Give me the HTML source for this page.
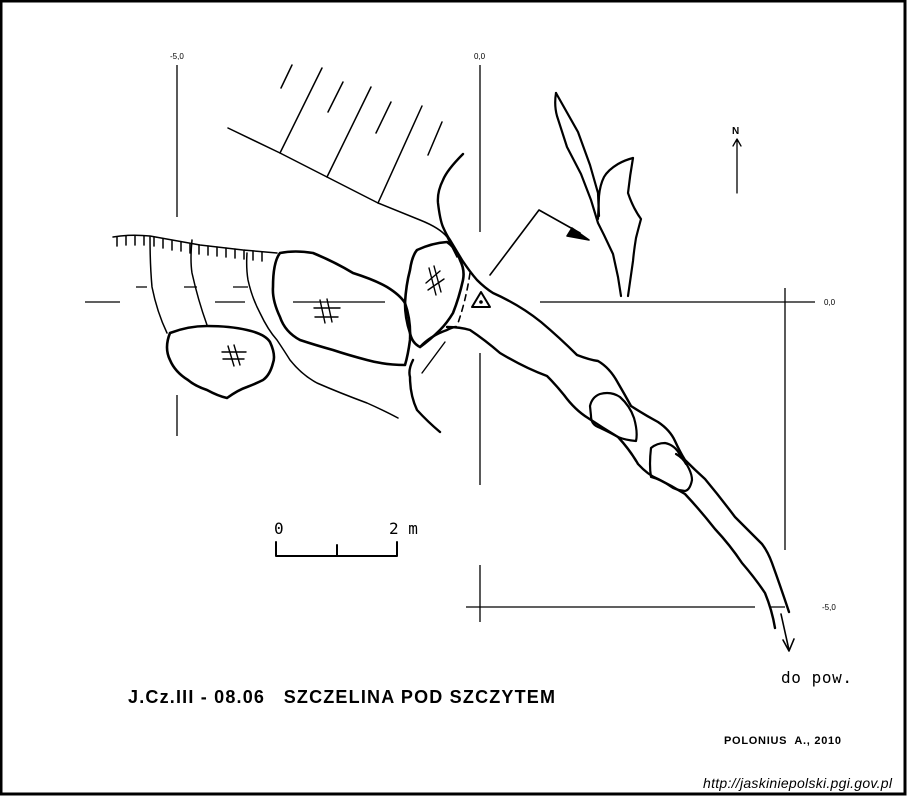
<!DOCTYPE html>
<html><head><meta charset="utf-8"><style>
html,body{margin:0;padding:0;background:#fff}
svg{display:block}
</style></head><body>
<svg width="907" height="796" viewBox="0 0 907 796" xmlns="http://www.w3.org/2000/svg" font-family="Liberation Sans, sans-serif">
<rect x="1" y="1" width="904" height="793" fill="#fff" stroke="#000" stroke-width="3"/>
<g stroke="#000" stroke-width="1.3" fill="none">
  <path d="M177 65V217M177 395V436"/>
  <path d="M480 65V232M480 353V485M480 565V622"/>
  <path d="M785 288V550"/>
  <path d="M85 302H120M215 302H245M293 302H385M540 302H815"/>
  <path d="M136 287H147M184 287H197M233 287H248"/>
  <path d="M466 607H755M770 607H785"/>
</g>
<g font-size="8" fill="#000">
  <text x="170" y="59">-5,0</text>
  <text x="474" y="59">0,0</text>
  <text x="824" y="305">0,0</text>
  <text x="822" y="610">-5,0</text>
</g>
<g stroke="#000" fill="none" stroke-linejoin="round" stroke-linecap="round">
  <!-- slope -->
  <g stroke-width="1.5">
    <path d="M228 128 L280 153 L327 177 L378 203 L420 220 Q440 228 447 237 L457 257"/>
    <path d="M280 153L322 68M281 88L292 65M328 112L343 82M327 177L371 87M376 133L391 102M378 203L422 106M428 155L442 122"/>
  </g>
  <!-- roof hachure edge -->
  <g stroke-width="1.5">
    <path d="M113 237 Q130 234 150 236 L200 245 L243 250 L277 253"/>
    <path d="M117 237v9M126 236v9M135 236v9M144 236v9M154 237v9M163 239v9M172 241v9M181 242v9M190 244v9M199 245v9M208 246v9M217 247v9M226 248v9M235 249v9M244 250v9M253 251v9M262 252v9"/>
    <path d="M150 237 Q150 265 152 287 Q157 312 167 333"/>
    <path d="M192 240 Q190 260 192 273 Q198 300 207 325"/>
    <path d="M247 253 Q246 268 248 280 Q252 298 260 313 Q268 330 277 340 Q285 352 290 360 Q302 375 317 383 Q340 393 367 403 Q385 411 398 418"/>
  </g>
  <!-- boulders -->
  <g stroke-width="2.6">
    <path d="M170 333 Q188 326 207 326 Q230 326 247 330 Q265 334 270 342 Q276 355 273 363 Q270 375 263 380 Q255 384 247 387 Q238 390 227 398 Q218 396 207 390 Q195 386 188 380 Q175 372 170 360 Q164 348 170 333Z"/>
    <path d="M280 253 Q295 250 313 253 Q335 262 353 273 Q375 280 387 287 Q400 295 405 303 Q411 320 410 340 Q408 355 405 365 Q385 365 367 360 Q348 355 333 350 Q315 345 300 340 Q285 332 280 317 Q272 300 273 287 Q273 262 280 253Z"/>
    <path d="M417 250 Q432 243 447 242 Q456 248 460 260 Q465 270 463 280 Q459 298 453 313 Q447 323 440 330 Q430 340 420 347 Q412 343 410 333 Q405 318 405 303 Q406 285 410 270 Q412 256 417 250Z"/>
  </g>
  <g stroke-width="1.4">
    <path d="M222 352H246M223 359H244M228 346L234 366M234 345L240 365"/>
    <path d="M314 308H340M315 317H338M320 300L325 323M327 299L332 322"/>
    <path d="M426 283L440 271M428 290L444 279M429 268L436 295M434 266L441 292"/>
  </g>
  <!-- entrance walls -->
  <g stroke-width="2.4">
    <path d="M463 154 Q447 170 443 180 Q437 192 438 203 Q440 220 443 227 Q447 236 450 240 L462 260 Q470 272 477 280 Q485 288 493 293 Q520 305 541 322 Q560 338 577 355 Q590 360 598 361 Q610 368 618 383 Q625 395 631 406 Q645 415 658 422 Q670 430 675 441 Q680 452 685 460 Q695 470 705 479 Q720 497 735 517 Q750 532 762 544 Q768 552 772 563 Q780 585 789 612"/>
    <path d="M447 327 Q460 327 470 330 Q485 340 500 353 Q525 368 547 376 Q556 385 564 395 Q575 410 588 418 Q603 428 618 437 Q630 450 638 464 Q648 475 658 479 Q672 486 685 494 Q700 510 715 529 Q730 545 742 563 Q755 578 765 593 Q772 610 775 628"/>
    <path d="M420 347 Q430 336 447 330 Q452 327 456 327"/>
    <path d="M413 360 Q408 370 410 377 Q410 395 417 410 Q428 422 440 432"/>
  </g>
  <path stroke-width="1.4" d="M422 373L445 342"/>
  <path stroke-width="1.6" stroke-dasharray="6 5" d="M470 273 Q466 300 458 323"/>
  <g>
    <path stroke-width="2" d="M481 292 L472 307 L490 307Z"/>
    <circle cx="481" cy="302" r="1.8" fill="#000" stroke="none"/>
  </g>
  <!-- inner loops -->
  <g stroke-width="2.2">
    <path d="M590 406 Q592 397 600 394 Q611 391 620 397 Q630 406 634 418 Q638 432 636 441 Q625 440 618 437 Q605 430 598 427 Q591 424 591 416Z"/>
    <path d="M651 448 Q657 443 665 443 Q675 445 680 455 Q692 470 692 480 Q690 490 685 491 Q675 490 670 486 Q662 480 651 477 Q649 465 651 448Z"/>
    <path d="M676 454 Q683 458 686 464"/>
  </g>
  <!-- side passage -->
  <g stroke-width="2.2">
    <path d="M556 93 Q554 105 557 116 L567 147 L581 174 L591 200 L598 223 L604 235 L613 254 L618 277 L621 296"/>
    <path d="M633 158 Q630 175 628 193 Q633 208 641 219 Q638 230 636 238 Q634 250 633 261 L628 296"/>
    <path d="M556 93 L578 132 L590 165 L598 193 L599 216"/>
    <path d="M633 158 Q625 160 618 164 Q608 170 604 177 Q600 185 599 196 L598 219"/>
  </g>
  <g stroke-width="1.6">
    <path d="M490 275 L539 210 L580 233"/>
    <path d="M589 240 L567 236 L572 228Z" fill="#000"/>
  </g>
  <g stroke-width="1.6">
    <path d="M781 614 L789 650"/>
    <path d="M783 640 L789 651 L794 639"/>
  </g>
  <g stroke-width="1.3">
    <path d="M737 193V140M733 146L737 139L741 146"/>
  </g>
  <g stroke-width="2">
    <path d="M276 542V556H397V542M337 545V556"/>
  </g>
</g>
<text x="732" y="134" font-size="10" font-weight="bold">N</text>
<text x="274" y="534" font-size="16" font-family="DejaVu Sans Mono, monospace">0</text>
<text x="389" y="534" font-size="16" font-family="DejaVu Sans Mono, monospace">2 m</text>
<text x="128" y="703" font-size="18" font-weight="bold" textLength="427" xml:space="preserve">J.Cz.III - 08.06   SZCZELINA POD SZCZYTEM</text>
<text x="781" y="683" font-size="16" font-family="DejaVu Sans Mono, monospace" textLength="71">do pow.</text>
<text x="724" y="744" font-size="11" font-weight="bold" textLength="117" xml:space="preserve">POLONIUS  A., 2010</text>
<text x="703" y="788" font-size="14" font-style="italic" textLength="189">http://jaskiniepolski.pgi.gov.pl</text>
</svg>
</body></html>
